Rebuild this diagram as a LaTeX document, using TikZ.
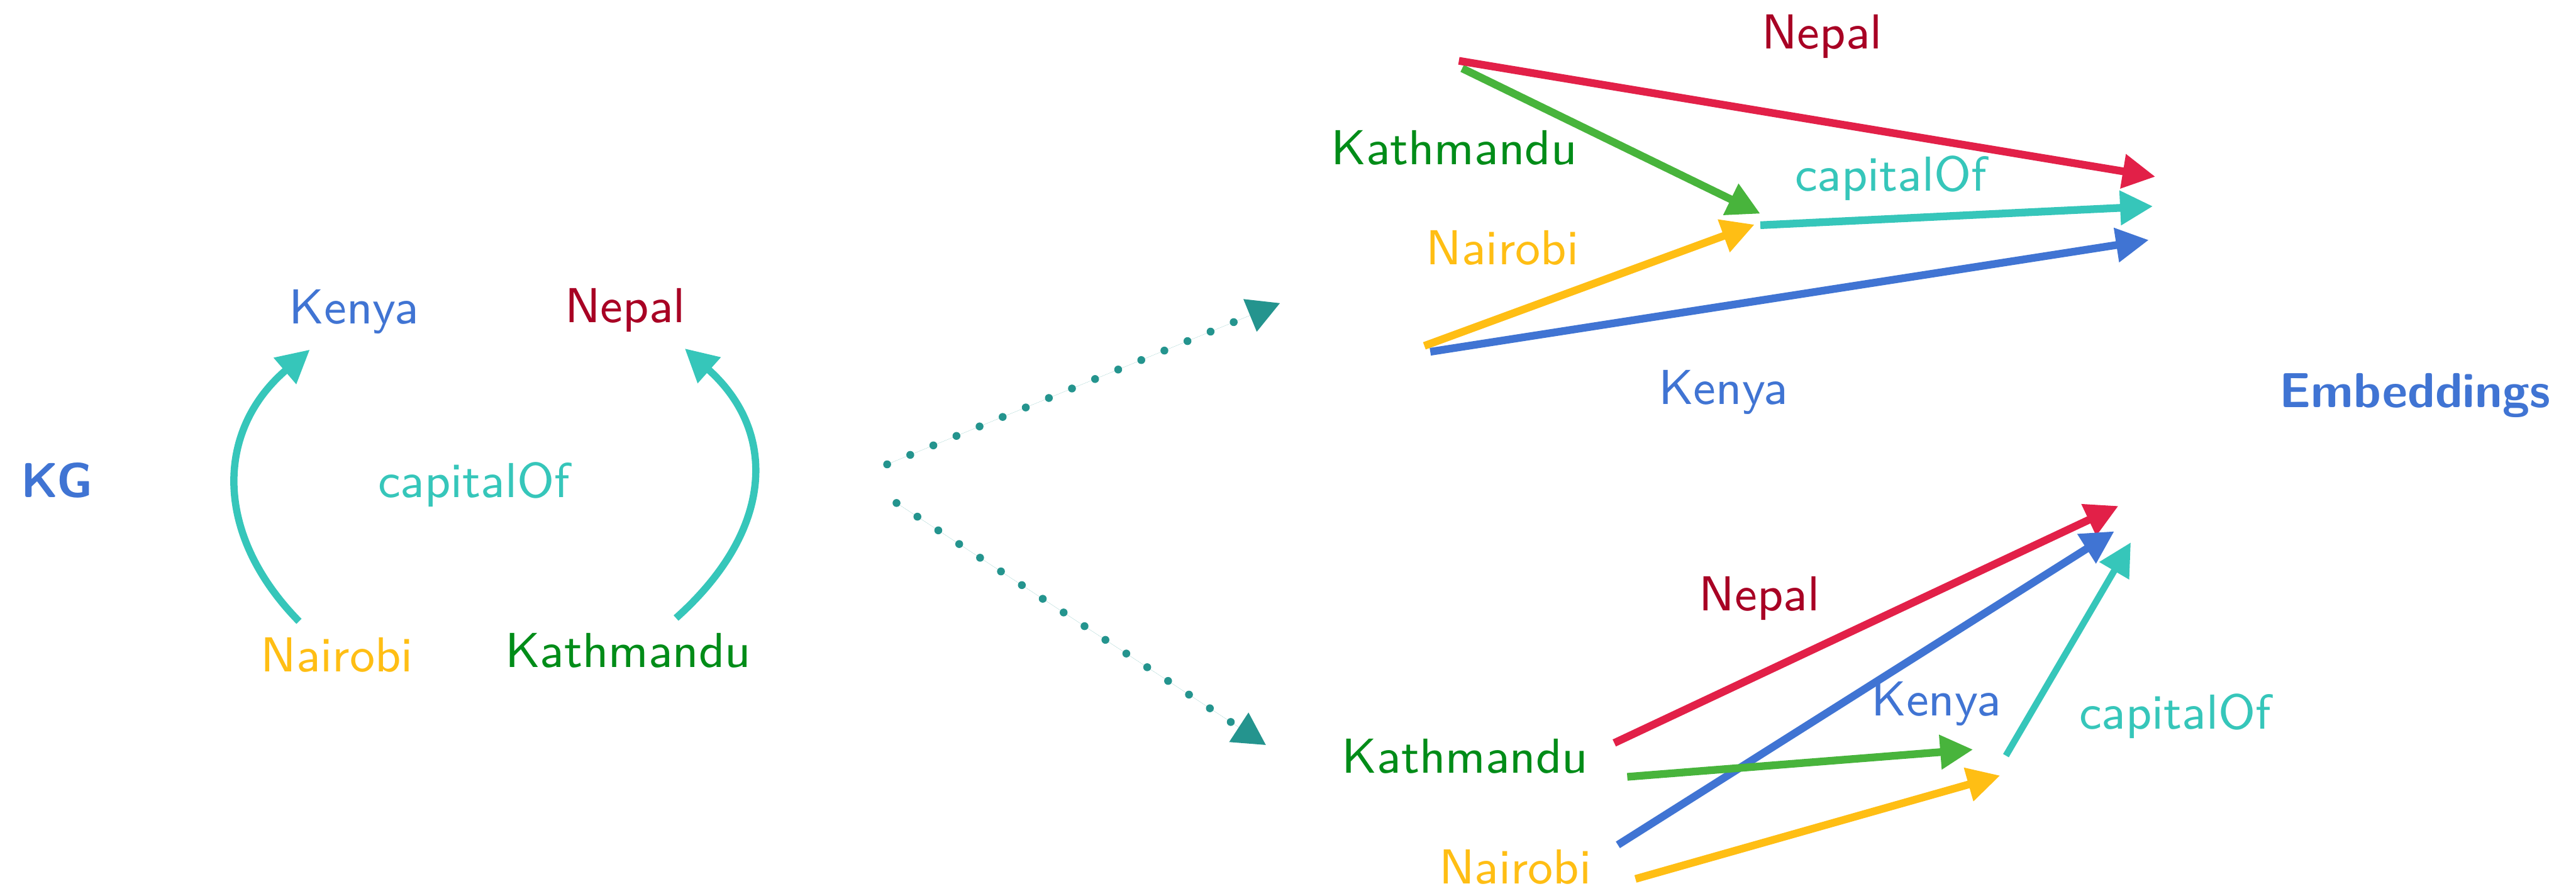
\documentclass[tikz,border=0pt]{standalone}
\usetikzlibrary{arrows.meta}
\definecolor{kgblue}{RGB}{64,116,211}
\definecolor{nepaltext}{RGB}{168,0,36}
\definecolor{nepalvec}{RGB}{226,32,72}
\definecolor{kathtext}{RGB}{0,140,24}
\definecolor{kathvec}{RGB}{72,180,60}
\definecolor{nairobi}{RGB}{255,190,20}
\definecolor{relteal}{RGB}{54,198,186}
\definecolor{dotteal}{RGB}{36,148,142}
\begin{document}
\begin{tikzpicture}[x=0.1mm,y=-0.1mm,
  lbl/.style={anchor=base, inner sep=0pt, font=\sffamily\fontsize{8.5}{10}\selectfont},
  heading/.style={anchor=base, inner sep=0pt, font=\sffamily\bfseries\fontsize{8.5}{10}\selectfont, text=kgblue},
  vec/.style={line width=0.47mm, -{Triangle[length=2mm,width=2mm]}},
  rel/.style={draw=relteal, line width=0.44mm, -{Triangle[length=2mm,width=2mm]}},
  dotarrow/.style={draw=dotteal, fill=dotteal, line width=0.48mm, line cap=round,
    dash pattern=on 0pt off 1.52mm, -{Triangle[length=2mm,width=2mm]}}]
\useasboundingbox (0,0) rectangle (1568,542);

% ---------------- knowledge graph ----------------
\node[heading] (kg) at (34.7,302.7) {KG};
\node[lbl, text=kgblue] (kenyaL) at (215.4,196.8) {Kenya};
\node[lbl, text=nepaltext] (nepalL) at (380.5,196) {Nepal};
\node[lbl, text=relteal] (relL) at (288.5,302.7) {capitalOf};
\node[lbl, text=nairobi] (nairobiL) at (205,408.6) {Nairobi};
\node[lbl, text=kathtext] (kathL) at (382.3,406) {Kathmandu};

\coordinate (naiTail) at (182,378);
\coordinate (kenHead) at (188.6,212.7);
\coordinate (kathTail) at (411.5,376);
\coordinate (nepHead) at (416.8,212);
\draw[rel] (naiTail) .. controls (130,325) and (131,262) .. (kenHead);
\draw[rel] (kathTail) .. controls (472,322) and (473,262) .. (nepHead);

% ---------------- two embedding branches ----------------
\coordinate (forkUp) at (540,282.5);
\coordinate (forkUpTip) at (779.4,184.3);
\coordinate (forkDn) at (545.7,306);
\coordinate (forkDnTip) at (770.8,453.4);
\draw[dotarrow] (forkUp) -- (forkUpTip);
\draw[dotarrow] (forkDn) -- (forkDnTip);

% ---------------- upper embedding: vectors ----------------
\coordinate (uKath) at (888,37);
\coordinate (uKathB) at (890,41.6);
\coordinate (uNepal) at (1312,107.5);
\coordinate (uMid) at (1071.5,130);
\coordinate (uRelTail) at (1071.5,137);
\coordinate (uRelHead) at (1310.5,125.5);
\coordinate (uNai) at (867,210.4);
\coordinate (uNaiHead) at (1068,136.6);
\coordinate (uNaiB) at (870.6,214);
\coordinate (uKenya) at (1308,146);
\draw[vec, kathvec] (uKathB) -- (uMid);
\draw[vec, nepalvec] (uKath) -- (uNepal);
\draw[vec, nairobi] (uNai) -- (uNaiHead);
\draw[vec, kgblue] (uNaiB) -- (uKenya);
\draw[vec, relteal] (uRelTail) -- (uRelHead);

\node[lbl, text=nepaltext] (uNepalL) at (1109,29.7) {Nepal};
\node[lbl, text=kathtext] (uKathL) at (885,100) {Kathmandu};
\node[lbl, text=relteal] (uRelL) at (1151,116.3) {capitalOf};
\node[lbl, text=nairobi] (uNaiL) at (914.5,160.9) {Nairobi};
\node[lbl, text=kgblue] (uKenyaL) at (1049,246) {Kenya};
\node[heading] (emb) at (1470,248) {Embeddings};

% ---------------- lower embedding: vectors ----------------
\coordinate (lNepT) at (982.6,452);
\coordinate (lNepH) at (1289.5,307.8);
\coordinate (lKenT) at (984.8,514);
\coordinate (lKenH) at (1287,323.2);
\coordinate (lRelT) at (1221,459.7);
\coordinate (lRelH) at (1297,330);
\coordinate (lKathT) at (990.5,472.6);
\coordinate (lKathH) at (1201,456);
\coordinate (lNaiT) at (995.5,534.7);
\coordinate (lNaiH) at (1217.5,471.8);
\draw[vec, nepalvec] (lNepT) -- (lNepH);
\draw[vec, kgblue] (lKenT) -- (lKenH);
\draw[vec, kathvec] (lKathT) -- (lKathH);
\draw[vec, nairobi] (lNaiT) -- (lNaiH);
\draw[vec, relteal, line width=0.4mm] (lRelT) -- (lRelH);

\node[lbl, text=nepaltext] (lNepalL) at (1071,371.6) {Nepal};
\node[lbl, text=kgblue] (lKenyaL) at (1178.5,435.4) {Kenya};
\node[lbl, text=kathtext] (lKathL) at (891.7,470.2) {Kathmandu};
\node[lbl, text=nairobi] (lNaiL) at (922.3,537.5) {Nairobi};
\node[lbl, text=relteal] (lRelL) at (1324,443.6) {capitalOf};
\end{tikzpicture}
\end{document}
